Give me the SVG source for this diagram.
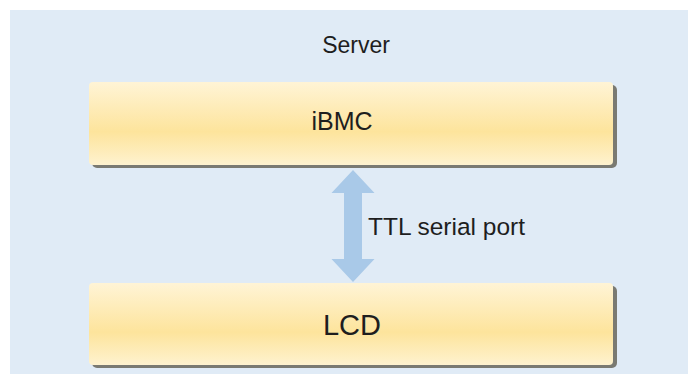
<svg xmlns="http://www.w3.org/2000/svg" width="693" height="383" viewBox="0 0 693 383">
<defs>
<linearGradient id="boxg" x1="0" y1="0" x2="0" y2="1">
<stop offset="0" stop-color="#fff4d6"/>
<stop offset="0.6" stop-color="#fde49c"/>
<stop offset="1" stop-color="#fef2cf"/>
</linearGradient>
<style>
.box{fill:url(#boxg);}
.shadow{fill:#7a7a72;}
.t{font-family:"Liberation Sans",Arial,sans-serif;fill:#1e1e1e;text-anchor:middle;}
</style>
</defs>
<rect x="0" y="0" width="693" height="383" fill="#ffffff"/>
<rect id="panel" x="10" y="10" width="678" height="364" fill="#e0ebf6"/>
<text class="t" x="356" y="53" font-size="23">Server</text>
<g id="ibmc">
<rect class="shadow" x="92" y="85" width="525" height="83" rx="5"/>
<rect class="box" x="89" y="82" width="524" height="83" rx="4"/>
<text class="t" x="342" y="130" font-size="25">iBMC</text>
</g>
<g id="lcd">
<rect class="shadow" x="92" y="286" width="525" height="82" rx="5"/>
<rect class="box" x="89" y="283" width="524" height="82" rx="4"/>
<text class="t" x="352" y="335" font-size="29">LCD</text>
</g>
<g id="connectors">
<path d="M353 170 L374.5 193 L362 193 L362 259 L374.5 259 L353 282 L331.5 259 L344 259 L344 193 L331.5 193 Z" fill="#a9c9e8"/>
<text x="368" y="235" font-size="24.5" font-family="Liberation Sans, Arial, sans-serif" fill="#1e1e1e">TTL serial port</text>
</g>
</svg>
